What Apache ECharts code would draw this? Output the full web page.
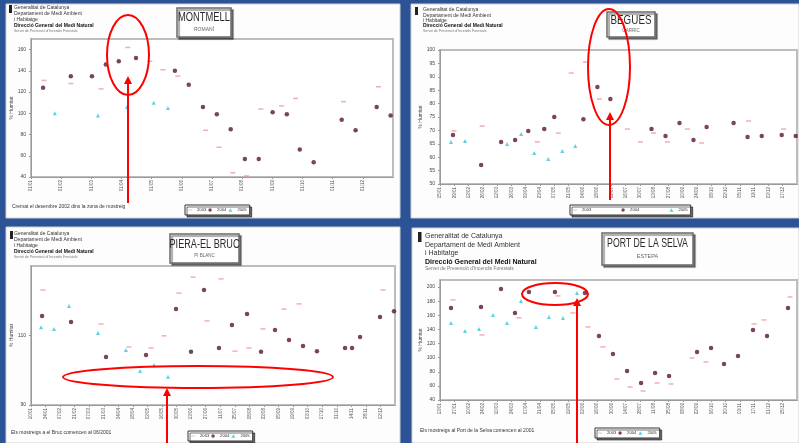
<!DOCTYPE html>
<html><head><meta charset="utf-8">
<script src="https://cdn.jsdelivr.net/npm/echarts/dist/echarts.min.js"></script>
<style>html,body{margin:0;padding:0;background:#2b5396}#c{width:799px;height:443px}</style>
</head><body><div id="c"></div><script>
// ---------- tick labels ----------
const montLabels = ['01/01','01/02','01/03','01/04','01/05','01/06','01/07','01/08','01/09','01/10','01/11','01/12'];
const beguesLabels = ['15/01','29/01','12/02','26/02','12/03','26/03','09/04','23/04','07/05','21/05','04/06','18/06','02/07','16/07','30/07','13/08','27/08','10/09','24/09','08/10','22/10','05/11','19/11','03/12','17/12'];
const pieraLabels = ['10/01','24/01','07/02','21/02','07/03','21/03','04/04','18/04','02/05','16/05','30/05','13/06','27/06','11/07','25/07','08/08','22/08','05/09','19/09','03/10','17/10','31/10','14/11','28/11','12/12'];
const portLabels = ['13/01','27/01','10/02','24/02','10/03','24/03','07/04','21/04','05/05','19/05','02/06','16/06','30/06','14/07','28/07','11/08','25/08','08/09','22/09','06/10','20/10','03/11','17/11','01/12','15/12'];
const years = ['2003','2004','2005'];

// ---------- MONTMELL (romaní) ----------
const mont2003X = [0.43,1.32,2.32,3.21,3.94,4.37,4.87,5.79,6.23,6.69,7.15,7.62,8.31,8.77,10.36,11.52];
const mont2003Y = [131,128,123,162,149,141,135,84,68,44,41,104,107,114,111,125];
const mont2004X = [0.40,1.32,2.02,2.48,2.91,3.48,4.77,5.23,5.70,6.16,6.62,7.09,7.55,8.01,8.48,8.91,9.37,10.30,10.76,11.46,11.92];
const mont2004Y = [124,135,135,146,149,152,140,127,106,99,85,57,57,101,99,66,54,94,84,106,98];
const mont2005X = [0.79,2.22,3.18,4.07,4.54];
const mont2005Y = [100,98,106,110,105];

// ---------- BEGUES (garric) ----------
const begu2003X = [0.98,2.95,6.81,8.28,9.19,10.18,11.16,13.12,14.04,14.95,15.93,17.33,18.32,21.61,24.07];
const begu2003Y = [69.8,71.6,65.7,69,91.4,95.5,81.7,70.5,65.7,69,65.7,70.5,65.3,73.5,70.5];
const begu2004X = [0.91,2.88,4.28,5.26,6.18,7.30,8.0,10.04,11.02,11.93,14.81,15.79,16.77,17.75,18.67,20.56,21.54,22.53,23.93,24.91];
const begu2004Y = [68.3,57.1,65.7,66.4,69.8,70.5,75,74.2,86.2,81.7,70.5,67.9,72.8,66.4,71.3,72.8,67.5,67.9,68.3,67.9];
const begu2005X = [0.77,1.75,4.70,5.68,6.60,7.58,8.56,9.47];
const begu2005Y = [65.7,66,64.9,68.7,61.6,59.3,62.3,64.2];

// ---------- PIERA-EL BRUC (pi blanc) ----------
const pier2003X = [0.82,4.81,6.73,8.24,9.13,10.16,11.13,12.09,13.05,14.01,14.97,15.93,17.38,18.41,24.18];
const pier2003Y = [123.1,113.3,106.7,106.4,109.9,122.2,126.8,114.2,126.3,105.5,106.4,111.9,117.6,119.1,123.1];
const pier2004X = [0.76,2.75,5.15,7.90,9.96,10.99,11.88,12.91,13.80,14.84,15.80,16.76,17.72,18.68,19.64,21.57,22.05,22.60,23.97,24.93];
const pier2004Y = [115.6,113.9,103.8,104.4,117.6,105.3,123.1,106.4,113,116.2,105.3,111.6,108.7,107,105.5,106.4,106.4,109.6,115.3,117];
const pier2005X = [0.69,1.58,2.61,4.60,6.52,7.49,8.45,9.41];
const pier2005Y = [112.4,111.9,118.5,110.7,105.8,99.8,101.5,98.1];

// ---------- PORT DE LA SELVA (estepa) ----------
const port2003X = [0.91,2.94,5.53,8.26,9.31,10.36,11.41,12.39,13.31,14.22,15.20,16.18,17.65,18.63,21.99,22.69,24.51];
const port2003Y = [181.8,132.2,156.3,187.5,163.4,143.5,115.2,69.8,58.4,52.8,64.1,62.7,99.6,93.9,147.8,153.4,186];
const port2004X = [0.77,2.87,4.27,5.25,6.23,8.05,10.15,11.13,12.11,13.10,14.08,15.06,16.04,18.0,18.98,19.89,20.87,21.92,22.90,24.37];
const port2004Y = [170.5,171.9,197.4,163.4,193.1,193.1,191.7,130.8,105.2,81.1,64.1,78.3,74,108,113.7,91,102.4,139.3,130.8,170.5];
const port2005X = [0.77,1.75,2.73,3.71,4.69,5.67,6.72,7.63,8.61,9.59];
const port2005Y = [149.2,137.8,140.7,160.5,149.2,180.4,143.5,157.7,156.3,191.7];

// ---------- styling ----------
const FONT = 'Liberation Sans';
const yearStyle = {
  '2003': {symbol:'rect', symbolSize:[5,1.5], color:'#f09a9a'},
  '2004': {symbol:'circle', symbolSize:4.5, color:'#5a1436'},
  '2005': {symbol:'triangle', symbolSize:4, color:'#38c4dc'}
};
function pts(xs, ys){ return xs.map((x,i)=>[x, ys[i]]); }
function ser(name, xs, ys, gi){
  const s = yearStyle[name];
  return {type:'scatter', name, xAxisIndex:gi, yAxisIndex:gi, data:pts(xs,ys),
    symbol:s.symbol, symbolSize:s.symbolSize, itemStyle:{color:s.color}, silent:true, z:3};
}
function xAx(gi, max, labels){
  return {type:'value', gridIndex:gi, min:0, max:max, interval:1,
    axisLine:{lineStyle:{color:'#9a9a9a'}}, axisTick:{length:2,lineStyle:{color:'#9a9a9a'}},
    splitLine:{show:false},
    axisLabel:{rotate:90, fontSize:4.5, color:'#555', margin:3, fontFamily:FONT, showMaxLabel:false,
      formatter:v=>labels[Math.round(v)]||''}};
}
function yAx(gi, min, max, interval){
  return {type:'value', gridIndex:gi, min, max, interval,
    name:'% Humitat', nameLocation:'middle', nameGap:15, nameRotate:90,
    nameTextStyle:{fontSize:5, color:'#444', fontFamily:FONT},
    axisLine:{show:true, lineStyle:{color:'#9a9a9a'}}, axisTick:{length:2,lineStyle:{color:'#9a9a9a'}},
    splitLine:{show:false},
    axisLabel:{fontSize:5, color:'#444', margin:5, fontFamily:FONT, showMaxLabel: (max % interval === 0)}};
}
function gridAt(l,t,w,h){ return {left:l, top:t, width:w, height:h, show:true, borderColor:'#bdbdbd', borderWidth:2, backgroundColor:'#fff'}; }
const legendItems = [
  {name:'2003', icon:'path://M0,4L10,4L10,6L0,6Z'},
  {name:'2004', icon:'circle'},
  {name:'2005', icon:'triangle'}
];
function legendAt(l,t,gap){
  return {data:legendItems, left:l, top:t, itemGap:gap, itemWidth:4, itemHeight:3.5,
    textStyle:{fontSize:4.2, color:'#333', fontFamily:FONT},
    borderColor:'#333', borderWidth:1, backgroundColor:'#fff', padding:[3,3],
    shadowColor:'rgba(0,0,0,0.55)', shadowOffsetX:2, shadowOffsetY:2, shadowBlur:0,
    selectedMode:false};
}

// ---------- decoration helpers ----------
function txt(x,y,t,font,fill,align,sx){
  return {type:'text', x, y, z:5, scaleX:sx||1, style:{text:t, font, fill:fill||'#333', textAlign:align||'left', textVerticalAlign:'middle'}};
}
function header(x,y,logoX,logoY,logoH,step,size){
  const f = size+'px '+FONT;
  return [
    {type:'rect', shape:{x:logoX,y:logoY,width:Math.max(3,size*0.5),height:logoH}, style:{fill:'#222'}, z:5},
    txt(x,y,'Generalitat de Catalunya',f,'#333'),
    txt(x,y+step,'Departament de Medi Ambient',f,'#333'),
    txt(x,y+2*step,'i Habitatge',f,'#333'),
    txt(x,y+3*step,'Direcció General del Medi Natural','bold '+f,'#111'),
    txt(x,y+3*step+size,'Servei de Prevenció d\u2019Incendis Forestals',(size*0.7)+'px '+FONT,'#777')
  ];
}
function titleBox(x,y,w,h,title,sub,tSize,tScale,tY,sY,sSize){
  return [
    {type:'rect', shape:{x,y,width:w,height:h}, z:4,
     style:{fill:'#fff', stroke:'#6a6a6a', lineWidth:1.5, shadowColor:'rgba(0,0,0,0.45)', shadowOffsetX:2, shadowOffsetY:2, shadowBlur:1}},
    txt(x+w/2, tY, title, tSize+'px '+FONT, '#2a2a2a', 'center', tScale),
    txt(x+w/2, sY, sub, sSize+'px '+FONT, '#666', 'center')
  ];
}
function arrow(x, y1, y2){
  return [
    {type:'line', shape:{x1:x,y1:y1,x2:x,y2:y2+5}, style:{stroke:'#ff0000', lineWidth:2}, z:50},
    {type:'polygon', shape:{points:[[x,y2],[x-4,y2+8],[x+4,y2+8]]}, style:{fill:'#ff0000'}, z:50}
  ];
}
function ellipse(cx,cy,rx,ry){
  return {type:'ellipse', shape:{cx,cy,rx,ry}, style:{fill:'none', stroke:'#ff0000', lineWidth:2}, z:50};
}

const graphics = [].concat(
  // panels
  [{type:'rect', shape:{x:6,y:4,width:394,height:214}, style:{fill:'#fdfdfd', stroke:'#d0d0d0'}, z:-10},
   {type:'rect', shape:{x:411,y:4,width:388,height:214}, style:{fill:'#fdfdfd', stroke:'#d0d0d0'}, z:-10},
   {type:'rect', shape:{x:6,y:227,width:394,height:216}, style:{fill:'#fdfdfd', stroke:'#d0d0d0'}, z:-10},
   {type:'rect', shape:{x:412,y:228,width:387,height:215}, style:{fill:'#fdfdfd', stroke:'#d0d0d0'}, z:-10}],
  header(14,8,9,5,8,6,5),
  header(423,10,415,7,8,5.3,5),
  header(14,234,10,231,8,6,5),
  header(425,236,418,232,10,8.6,7),
  titleBox(177,8,54,29,'MONTMELL','ROMANÍ',12,0.78,18,30,5),
  titleBox(607,12,48,25,'BEGUES','GARRIC',12,0.82,21,31,4.5),
  titleBox(170,234,69,29,'PIERA-EL BRUC','PI BLANC',12,0.76,245,256,4.5),
  titleBox(602,233,91,32,'PORT DE LA SELVA','ESTEPA',13,0.67,243,256,5.5),
  [txt(12,207,'Cremat el desembre 2002 dins la zona de mostreig','5px '+FONT,'#333'),
   txt(11,433,'Els mostreigs a el Bruc comencen al 06/2001','5px '+FONT,'#333'),
   txt(420,431,'Els mostreigs al Port de la Selva comencen al 2001','5px '+FONT,'#333')],
  // red annotations
  [ellipse(128,55,21,40), ellipse(609,67,21,58), ellipse(198,377,135,11), ellipse(555,294,33,11)],
  arrow(128,203,76),
  arrow(610,200,112),
  arrow(167,443,388),
  arrow(577,443,298)
);

const option = {
  animation:false,
  backgroundColor:'#2b5396',
  textStyle:{fontFamily:FONT},
  grid:[gridAt(31,39,362,138), gridAt(440,50,357,134), gridAt(31,266,364,139), gridAt(440,280,357,120)],
  xAxis:[xAx(0,12,montLabels), xAx(1,25,beguesLabels), xAx(2,25,pieraLabels), xAx(3,25,portLabels)],
  yAxis:[yAx(0,40,170,20), yAx(1,50,100,5), yAx(2,90,130,20), yAx(3,40,210,20)],
  legend:[legendAt(185,205,2), legendAt(570,205,30), legendAt(188,431,2), legendAt(595,428,2)],
  series:[
    ser('2003',mont2003X,mont2003Y,0), ser('2004',mont2004X,mont2004Y,0), ser('2005',mont2005X,mont2005Y,0),
    ser('2003',begu2003X,begu2003Y,1), ser('2004',begu2004X,begu2004Y,1), ser('2005',begu2005X,begu2005Y,1),
    ser('2003',pier2003X,pier2003Y,2), ser('2004',pier2004X,pier2004Y,2), ser('2005',pier2005X,pier2005Y,2),
    ser('2003',port2003X,port2003Y,3), ser('2004',port2004X,port2004Y,3), ser('2005',port2005X,port2005Y,3)
  ],
  graphic:{elements:graphics}
};
const chart = echarts.init(document.getElementById('c'), null, {renderer:'canvas'});
chart.setOption(option);
</script></body></html>
